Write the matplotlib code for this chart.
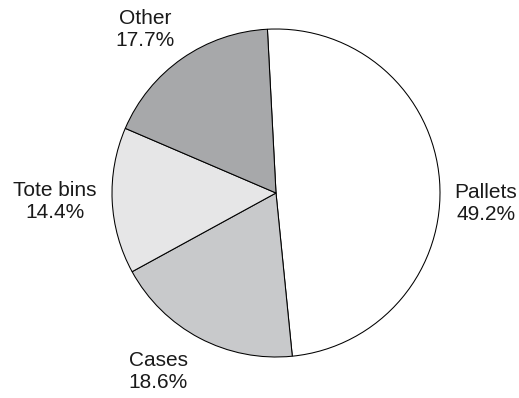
import matplotlib.pyplot as plt

# share of items handled, by unit type
labels = ['Pallets', 'Cases', 'Tote bins', 'Other']
shares = [49.2, 18.6, 14.4, 17.7]
colors = ['#ffffff', '#c8c9cb', '#e6e6e7', '#a7a8aa']

# label centres in pixel coords (y from top)
label_pos = [(486, 203), (158, 372), (55, 202), (145, 29)]

W, H = 519, 398
fig = plt.figure(figsize=(W / 100, H / 100), dpi=100)
ax = fig.add_axes([0, 0, 1, 1])
ax.pie(shares, colors=colors, startangle=93, counterclock=False,
       center=(276, H - 193), radius=164,
       wedgeprops=dict(edgecolor='black', linewidth=0.75))
ax.set_xlim(0, W)
ax.set_ylim(0, H)
ax.set_aspect('equal')
ax.axis('off')

for name, val, (x, y) in zip(labels, shares, label_pos):
    ax.text(x, H - y, '%s\n%.1f%%' % (name, val), ha='center', va='center',
            multialignment='center', fontsize=15, color='#1a1a1a',
            family='Liberation Sans', linespacing=1.2)

fig.savefig('out.png', dpi=100)
